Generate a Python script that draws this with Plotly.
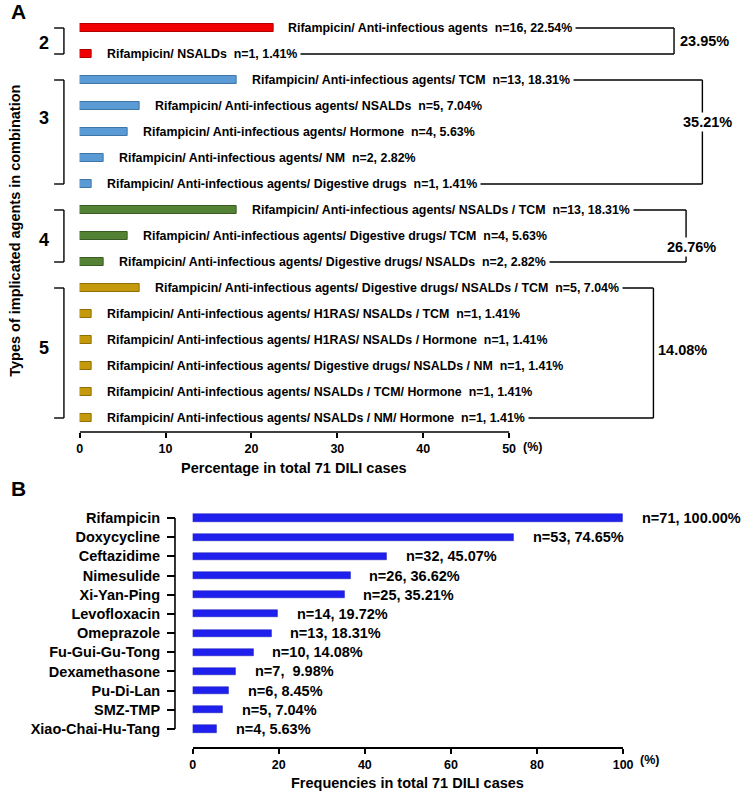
import plotly.graph_objects as go

# ---------------- data ----------------
combo_names = [
    "Rifampicin/ Anti-infectious agents",
    "Rifampicin/ NSALDs",
    "Rifampicin/ Anti-infectious agents/ TCM",
    "Rifampicin/ Anti-infectious agents/ NSALDs",
    "Rifampicin/ Anti-infectious agents/ Hormone",
    "Rifampicin/ Anti-infectious agents/ NM",
    "Rifampicin/ Anti-infectious agents/ Digestive drugs",
    "Rifampicin/ Anti-infectious agents/ NSALDs / TCM",
    "Rifampicin/ Anti-infectious agents/ Digestive drugs/ TCM",
    "Rifampicin/ Anti-infectious agents/ Digestive drugs/ NSALDs",
    "Rifampicin/ Anti-infectious agents/ Digestive drugs/ NSALDs / TCM",
    "Rifampicin/ Anti-infectious agents/ H1RAS/ NSALDs / TCM",
    "Rifampicin/ Anti-infectious agents/ H1RAS/ NSALDs / Hormone",
    "Rifampicin/ Anti-infectious agents/ Digestive drugs/ NSALDs / NM",
    "Rifampicin/ Anti-infectious agents/ NSALDs / TCM/ Hormone",
    "Rifampicin/ Anti-infectious agents/ NSALDs / NM/ Hormone",
]
combo_n = [16, 1, 13, 5, 4, 2, 1, 13, 4, 2, 5, 1, 1, 1, 1, 1]
combo_pct = [22.54, 1.41, 18.31, 7.04, 5.63, 2.82, 1.41, 18.31, 5.63, 2.82,
             7.04, 1.41, 1.41, 1.41, 1.41, 1.41]
# groups: (number of agent types, first row, last row, total percentage)
group_types = ["2", "3", "4", "5"]
group_first = [0, 2, 7, 10]
group_last = [1, 6, 9, 15]
group_total = ["23.95%", "35.21%", "26.76%", "14.08%"]

drug_names = ["Rifampicin", "Doxycycline", "Ceftazidime", "Nimesulide", "Xi-Yan-Ping",
              "Levofloxacin", "Omeprazole", "Fu-Gui-Gu-Tong", "Dexamethasone",
              "Pu-Di-Lan", "SMZ-TMP", "Xiao-Chai-Hu-Tang"]
drug_n = [71, 53, 32, 26, 25, 14, 13, 10, 7, 6, 5, 4]
drug_pct = [100.00, 74.65, 45.07, 36.62, 35.21, 19.72, 18.31, 14.08, 9.98, 8.45, 7.04, 5.63]

top_ticks = [0, 10, 20, 30, 40, 50]
bot_ticks = [0, 20, 40, 60, 80, 100]

# ---------------- style ----------------
W, H = 754, 793
FONT = "Liberation Sans, Arial, sans-serif"
group_colors = ["#f00000", "#5b9bd5", "#548235", "#c49a0c"]
group_edges = ["#b00000", "#3f76a8", "#3a5c24", "#8f6f05"]
BLUE = "#2020ee"


def pxx(p):
    return p / W


def pxy(p):
    return 1 - p / H


def f(size, color="black"):
    return dict(family=FONT, size=size, color=color, weight="bold")


rows_top = list(range(len(combo_names)))
rows_bot = list(range(len(drug_names)))

bar_colors = []
edge_colors = []
for gi in range(len(group_types)):
    for r in range(group_first[gi], group_last[gi] + 1):
        bar_colors.append(group_colors[gi])
        edge_colors.append(group_edges[gi])

fig = go.Figure()
fig.add_trace(go.Bar(
    x=combo_pct, y=rows_top, orientation="h", width=0.3,
    marker=dict(color=bar_colors, line=dict(color=edge_colors, width=1)),
    xaxis="x", yaxis="y", hoverinfo="skip", showlegend=False))
fig.add_trace(go.Bar(
    x=drug_pct, y=rows_bot, orientation="h", width=0.37,
    marker=dict(color=BLUE, line=dict(color="#1010b0", width=0.5)),
    xaxis="x2", yaxis="y2", hoverinfo="skip", showlegend=False))

# top panel scale: 0 at px 78, 50 at px 515; domain extended to the right edge
top_x_max = 50 * (W - 78) / (515 - 78)
row_px = 26.0
bot_row_px = 19.18

shapes = []
annotations = []
LW = 1.4

# top axis line 0..50
shapes.append(dict(type="line", xref="x", yref="y domain", x0=0, x1=50, y0=0, y1=0,
                   line=dict(color="black", width=1.6)))

# bar labels (top)
for r in rows_top:
    txt = f"{combo_names[r]}\u00a0\u00a0n={combo_n[r]}, {combo_pct[r]:.2f}%"
    annotations.append(dict(x=combo_pct[r], y=r, xref="x", yref="y", text=txt,
                            xanchor="left", yanchor="middle", xshift=11, showarrow=False,
                            bgcolor="white", borderpad=3, font=f(12.4)))

# right brackets (in top-axis data units)
bracket_x = [69.2, 72.5, 70.6, 66.8]
total_y = [0.5, 3.615, 8.42, 12.38]
total_anchor = ["left", "center", "center", "left"]
total_shift = [4, 5, 5, 3]
for gi in range(len(group_types)):
    a, b = group_first[gi], group_last[gi]
    bx = bracket_x[gi]
    for r in (a, b):
        shapes.append(dict(type="line", xref="x", yref="y", x0=combo_pct[r] + 1.5, x1=bx,
                           y0=r, y1=r, line=dict(color="black", width=LW), layer="below"))
    shapes.append(dict(type="line", xref="x", yref="y", x0=bx, x1=bx, y0=a, y1=b,
                       line=dict(color="black", width=LW), layer="below"))
    annotations.append(dict(x=bx, y=total_y[gi], xref="x", yref="y", text=group_total[gi],
                            xanchor=total_anchor[gi], yanchor="middle", xshift=total_shift[gi],
                            showarrow=False, bgcolor="white", borderpad=1, font=f(14.5)))

# left brackets
group_label_y = [0.58, 3.46, 8.15, 12.3]
for gi in range(len(group_types)):
    a, b = group_first[gi], group_last[gi]
    shapes.append(dict(type="line", xref="paper", yref="y", x0=pxx(62), x1=pxx(62), y0=a, y1=b,
                       line=dict(color="black", width=LW)))
    for r in (a, b):
        shapes.append(dict(type="line", xref="paper", yref="y", x0=pxx(52), x1=pxx(62), y0=r, y1=r,
                           line=dict(color="black", width=LW)))
    annotations.append(dict(x=pxx(42), y=group_label_y[gi], xref="paper", yref="y",
                            text=group_types[gi], showarrow=False, xanchor="center",
                            yanchor="middle", font=f(18)))

# top axis texts
annotations.append(dict(x=50, y=pxy(447), xref="x", yref="paper", text="(%)", xanchor="left",
                        yanchor="middle", xshift=12, showarrow=False, font=f(12.5)))
annotations.append(dict(x=25, y=pxy(468), xref="x", yref="paper",
                        text="Percentage in total 71 DILI cases", xanchor="center",
                        yanchor="middle", showarrow=False, font=f(14.5)))
annotations.append(dict(x=pxx(12), y=pxy(231), xref="paper", yref="paper",
                        text="Types of implicated agents in combination", textangle=-90,
                        xanchor="center", yanchor="middle", showarrow=False, font=f(14.5)))
annotations.append(dict(x=pxx(15.5), y=pxy(12), xref="paper", yref="paper", text="A",
                        xanchor="center", yanchor="middle", showarrow=False, font=f(21)))
annotations.append(dict(x=pxx(16), y=pxy(489), xref="paper", yref="paper", text="B",
                        xanchor="center", yanchor="middle", showarrow=False, font=f(21)))

# bottom panel labels
for r in rows_bot:
    sep = "\u00a0\u00a0" if drug_n[r] == 7 else " "
    txt = f"n={drug_n[r]},{sep}{drug_pct[r]:.2f}%"
    annotations.append(dict(x=drug_pct[r], y=r, xref="x2", yref="y2", text=txt,
                            xanchor="left", yanchor="middle", xshift=17, showarrow=False,
                            font=f(14.5)))

# bottom y axis line (offset GraphPad style)
shapes.append(dict(type="line", xref="paper", yref="y2", x0=pxx(175), x1=pxx(175),
                   y0=rows_bot[0], y1=rows_bot[-1], line=dict(color="black", width=1.6)))
annotations.append(dict(x=100, y=pxy(760), xref="x2", yref="paper", text="(%)", xanchor="left",
                        yanchor="middle", xshift=15, showarrow=False, font=f(12.5)))
annotations.append(dict(x=50, y=pxy(783), xref="x2", yref="paper",
                        text="Frequencies in total 71 DILI cases", xanchor="center",
                        yanchor="middle", showarrow=False, font=f(14.5)))

n_top = len(rows_top)
n_bot = len(rows_bot)
fig.update_layout(
    width=W, height=H, autosize=False,
    margin=dict(l=0, r=0, t=0, b=0),
    paper_bgcolor="white", plot_bgcolor="white",
    bargap=0, showlegend=False,
    xaxis=dict(domain=[pxx(78), 1.0], range=[0, top_x_max], anchor="y",
               tickvals=top_ticks, ticktext=[str(t) for t in top_ticks],
               ticks="outside", ticklen=5, tickwidth=1.6, tickcolor="black",
               showline=False, showgrid=False, zeroline=False, tickfont=f(12.5)),
    yaxis=dict(domain=[pxy(432), pxy(14)],
               range=[n_top - 1 + 14 / row_px, -14 / row_px], anchor="x",
               showticklabels=False, ticks="", showgrid=False, zeroline=False, showline=False),
    xaxis2=dict(domain=[pxx(193), pxx(631)], range=[0, 100], anchor="y2",
                tickvals=bot_ticks, ticktext=[str(t) for t in bot_ticks],
                ticks="outside", ticklen=5, tickwidth=1.6, tickcolor="black",
                showline=True, linecolor="black", linewidth=1.6,
                showgrid=False, zeroline=False, tickfont=f(12.5)),
    yaxis2=dict(domain=[pxy(747), pxy(508)],
                range=[n_bot - 1 + 18 / bot_row_px, -10 / bot_row_px],
                anchor="free", position=pxx(175),
                tickvals=rows_bot, ticktext=drug_names,
                ticks="outside", ticklen=8, tickwidth=1.6, tickcolor="black",
                ticklabelstandoff=4,
                showline=False, showgrid=False, zeroline=False, tickfont=f(14.5)),
    shapes=shapes, annotations=annotations,
)

fig.write_html(
    "out.html",
    config={"displayModeBar": False, "responsive": False},
    post_script="document.body.style.margin='0';document.body.style.overflow='hidden';",
)
